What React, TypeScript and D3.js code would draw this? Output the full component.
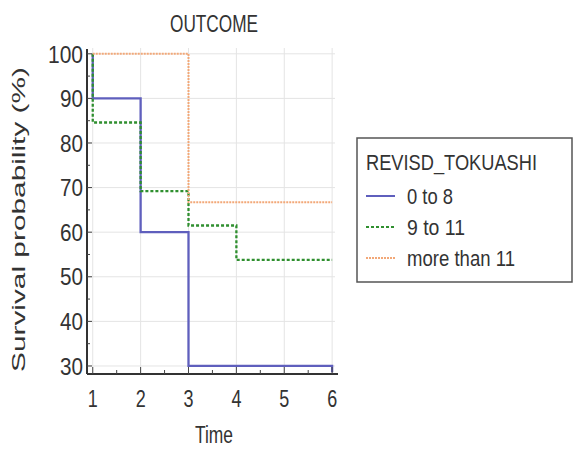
import React from "react";
import * as d3 from "d3";

const times = [1, 2, 3, 4, 5, 6];
const yTicks = [30, 40, 50, 60, 70, 80, 90, 100];
const seriesNames = ["0 to 8", "9 to 11", "more than 11"];
const legendTitle = "REVISD_TOKUASHI";
// step points: [time, survival %]
const group0to8: [number, number][] = [[1, 100], [1, 90], [2, 90], [2, 60], [3, 60], [3, 30], [6, 30], [6, 28.6]];
const group9to11: [number, number][] = [[1, 100], [1, 84.6], [2, 84.6], [2, 69.2], [3, 69.2], [3, 61.5], [4, 61.5], [4, 53.8], [6, 53.8]];
const groupMore11: [number, number][] = [[1, 100], [3, 100], [3, 66.7], [6, 66.7]];
const colors = ["#5f5fbd", "#2f8f2f", "#f2a878"];
const dashes = ["none", "3,2", "2,1"];
const legendWidths = [46, 58, 108];

const FONT = "'Liberation Sans', Arial, sans-serif";
const SY = 1.15;

function ST(props: { x: number; y: number; size: number; w: number; anchor?: string; dy?: string; children: React.ReactNode }) {
  const { x, y, size, w, anchor, dy, children } = props;
  return (
    <g transform={`translate(${x},${y}) scale(1,${SY})`}>
      <text x={0} y={0} dy={dy} fontSize={size} fill="#333" textAnchor={anchor ?? "start"} textLength={w} lengthAdjust="spacingAndGlyphs">{children}</text>
    </g>
  );
}

export default function App() {
  const x = d3.scaleLinear().domain([0.88, 6.06]).range([87, 335]);
  const y = d3.scaleLinear().domain([28.2, 101.3]).range([374, 48]);
  const line = d3.line<[number, number]>().x(d => x(d[0])).y(d => y(d[1]));
  const data = [group0to8, group9to11, groupMore11];
  const minorY = d3.range(30, 101, 5);
  const minorX = d3.range(1, 6.01, 0.5);
  return (
    <svg width={575} height={452} style={{ position: "absolute", left: 0, top: 0, background: "#fff" }} fontFamily={FONT}>
      <ST x={170} y={32} size={21} w={88}>OUTCOME</ST>
      {yTicks.map(t => (
        <line key={"gy" + t} x1={87} x2={335} y1={y(t)} y2={y(t)} stroke="#e4e4e4" strokeWidth={1} />
      ))}
      {times.map(t => (
        <line key={"gx" + t} x1={x(t)} x2={x(t)} y1={48} y2={374} stroke="#e4e4e4" strokeWidth={1} />
      ))}
      {data.map((d, i) => (
        <path key={i} d={line(d) ?? ""} fill="none" stroke={colors[i]} strokeWidth={i === 2 ? 2 : 2.3} strokeDasharray={dashes[i]} />
      ))}
      <line x1={87} x2={87} y1={49} y2={374} stroke="#333" strokeWidth={2} />
      <line x1={87} x2={338} y1={374} y2={374} stroke="#333" strokeWidth={2} />
      {minorY.map(t => (
        <line key={"my" + t} x1={87} x2={t % 10 === 0 ? 92 : 90} y1={y(t)} y2={y(t)} stroke="#444" strokeWidth={1} />
      ))}
      {minorX.map(t => (
        <line key={"mx" + t} x1={x(t)} x2={x(t)} y1={374} y2={Number.isInteger(t) ? 367 : 370} stroke="#444" strokeWidth={1} />
      ))}
      {yTicks.map(t => (
        <ST key={"ty" + t} x={83} y={y(t)} dy="0.36em" anchor="end" size={21} w={t === 100 ? 35 : 23}>{t}</ST>
      ))}
      {times.map(t => (
        <ST key={"tx" + t} x={x(t)} y={407} anchor="middle" size={21} w={10}>{t}</ST>
      ))}
      <ST x={195} y={443} size={21} w={38}>Time</ST>
      <text transform="translate(25,372) rotate(-90)" fontSize={19} fill="#333" textLength={305} lengthAdjust="spacingAndGlyphs">Survival probability (%)</text>
      <rect x={357} y={138} width={215} height={144} fill="#fff" stroke="#555" strokeWidth={1.5} />
      <ST x={366} y={170} size={19} w={171}>{legendTitle}</ST>
      {seriesNames.map((s, i) => (
        <g key={s}>
          <line x1={366} x2={395} y1={196 + i * 31} y2={196 + i * 31} stroke={colors[i]} strokeWidth={2} strokeDasharray={dashes[i]} />
          <ST x={407} y={196 + i * 31} dy="0.36em" size={19} w={legendWidths[i]}>{s}</ST>
        </g>
      ))}
    </svg>
  );
}
